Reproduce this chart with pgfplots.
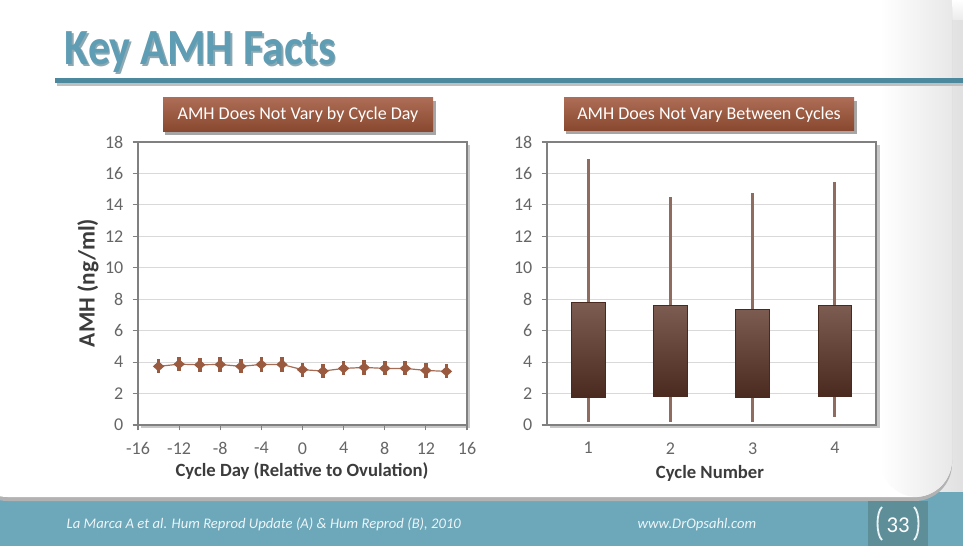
\documentclass[border=0pt]{standalone}
\usepackage{pgfplots}
\pgfplotsset{compat=1.18}
\usepgfplotslibrary{statistics}
\usepackage{pgfplotstable}
\usepackage{fontspec}
\setmainfont{Carlito}
\definecolor{titleblue}{HTML}{5E9DB4}
\definecolor{titleshadow}{HTML}{3E6E80}
\definecolor{rulecol}{HTML}{4C889E}
\definecolor{footer}{HTML}{6DA7BA}
\definecolor{footerbox}{HTML}{5E8F98}
\definecolor{hdrtop}{HTML}{AC6C55}
\definecolor{hdrbot}{HTML}{88482F}
\definecolor{linecol}{HTML}{A66C55}
\definecolor{markcol}{HTML}{9A5A40}
\definecolor{boxtop}{HTML}{7C5C50}
\definecolor{boxbot}{HTML}{4A2A1E}
\definecolor{whisk}{HTML}{8E6C60}
\definecolor{ticktext}{HTML}{666666}
\definecolor{labtext}{HTML}{3C3C3C}
\definecolor{axcol}{HTML}{808080}

\pgfplotstableread{
x y e
-14 3.73 0.45
-12 3.87 0.45
-10 3.83 0.45
-8 3.85 0.45
-6 3.73 0.45
-4 3.85 0.45
-2 3.85 0.45
0 3.52 0.45
2 3.43 0.45
4 3.60 0.45
6 3.66 0.45
8 3.60 0.45
10 3.60 0.45
12 3.47 0.45
14 3.41 0.45
}\daydata

\pgfplotsset{
  slidestyle/.style={
    scale only axis,
    width=246.75pt, height=212.25pt,
    anchor=south west,
    ymin=0, ymax=18, ytick={0,2,...,18},
    ymajorgrids, grid style={draw=black!15, line width=0.6pt},
    axis line style={draw=axcol, line width=0.8pt},
    tick style={draw=axcol, line width=0.8pt},
    tick align=outside, tick pos=left,
    major tick length=4pt,
    tick label style={text=ticktext, font=\fontsize{13.5}{13.5}\selectfont},
    yticklabel style={xshift=-3.5pt},
    xticklabel style={yshift=-5.5pt},
    /pgf/number format/assume math mode=true,
    axis background/.style={fill=white},
  }
}

\begin{document}
\begin{tikzpicture}[x=0.75pt,y=0.75pt]
\path[use as bounding box] (0,0) rectangle (963,546);
\fill[white] (0,0) rectangle (963,546);
\shade[left color=white, right color=black!12] (870,46) rectangle (963,546);
\shade[bottom color=black!8, top color=white] (0,526) rectangle (963,546);
% footer band
\fill[footer] (0,0) rectangle (963,54);
\fill[black!30] (-30,576) [rounded corners=28] -- (-30,45) -- (952,45) -- (952,576) [sharp corners] -- cycle;
\fill[white] (-30,576) [rounded corners=28] -- (-30,49) -- (952,49) -- (952,576) [sharp corners] -- cycle;
\shade[left color=white, right color=black!9] (880,576) [rounded corners=28] -- (880,49) -- (952,49) -- (952,576) [sharp corners] -- cycle;
\fill[footerbox] (868,0) rectangle (928,45);
\node[anchor=base west, text=white!88!footer, font=\fontsize{11}{11}\selectfont\itshape] at (62,18) {La Marca A et al. Hum Reprod Update (A) \& Hum Reprod (B), 2010};
\node[anchor=base, text=white!88!footer, font=\fontsize{11}{11}\selectfont\itshape] at (697,18) {www.DrOpsahl.com};
\node[anchor=base, text=white, font=\fontsize{17}{17}\selectfont] at (898,14) {33};
\draw[white!85!footer, line width=1.4pt] (882,39) .. controls (876,34) and (876,11) .. (882,6);
\draw[white!85!footer, line width=1.4pt] (914,39) .. controls (920,34) and (920,11) .. (914,6);

% title
\node[anchor=base west, text=titleshadow!60, font=\fontsize{38}{38}\selectfont\bfseries] at (61.5,479.5) {\scalebox{0.87}[1]{Key AMH Facts}};
\node[anchor=base west, text=titleblue, font=\fontsize{38}{38}\selectfont\bfseries] at (60,481) {\scalebox{0.87}[1]{Key AMH Facts}};
\fill[black!25] (57,460) rectangle (963,464);
\fill[rulecol] (55,463) rectangle (963,468);

% panel headers
\fill[black!35] (165,411) rectangle (436,445);
\shade[top color=hdrtop, bottom color=hdrbot] (163,414) rectangle (433,448);
\node[text=white, font=\fontsize{13.5}{13.5}\selectfont] at (298,431) {AMH Does Not Vary by Cycle Day};
\fill[black!35] (566,412) rectangle (857,445);
\shade[top color=hdrtop, bottom color=hdrbot] (564,415) rectangle (854,448);
\node[text=white, font=\fontsize{13.5}{13.5}\selectfont] at (709,431) {AMH Does Not Vary Between Cycles};

% axis shadows
\fill[black!22] (141,118) rectangle (470,401);
\fill[black!22] (550,118) rectangle (880,401);

% left axis
\begin{axis}[slidestyle, at={(103.5pt,90.75pt)},
  xmin=-16, xmax=16, xtick={-16,-12,...,16},
  xticklabels={-16,-12,-8,-4,0,4,8,12,16}]
\addplot[color=linecol, line width=0.9pt, mark=diamond*, mark size=4pt,
  mark options={fill=markcol, draw=markcol, xscale=1.2, yscale=0.8},
  error bars/.cd, y dir=both, y explicit,
  error mark=none,
  error bar style={draw=markcol, line width=2.8pt}]
  table[x=x, y=y, y error=e] {\daydata};
\end{axis}

% right axis
\begin{axis}[slidestyle, at={(410.25pt,90.75pt)},
  xmin=0.5, xmax=4.5, xtick={1,2,3,4},
  x tick style={draw=none},
  boxplot/draw direction=y,
  boxplot/every box/.style={draw=boxbot, line width=0.6pt, top color=boxtop, bottom color=boxbot},
  boxplot/every whisker/.style={draw=whisk, line width=2.4pt},
  boxplot/every median/.style={draw=none}]
\addplot[boxplot prepared={lower whisker=0.21, lower quartile=1.73, median=4, upper quartile=7.77, upper whisker=16.92, draw position=1, box extend=0.41, whisker extend=0}] coordinates {};
\addplot[boxplot prepared={lower whisker=0.20, lower quartile=1.83, median=4, upper quartile=7.58, upper whisker=14.50, draw position=2, box extend=0.41, whisker extend=0}] coordinates {};
\addplot[boxplot prepared={lower whisker=0.20, lower quartile=1.73, median=4, upper quartile=7.37, upper whisker=14.73, draw position=3, box extend=0.41, whisker extend=0}] coordinates {};
\addplot[boxplot prepared={lower whisker=0.48, lower quartile=1.83, median=4, upper quartile=7.58, upper whisker=15.46, draw position=4, box extend=0.41, whisker extend=0}] coordinates {};
\end{axis}

% axis labels
\node[rotate=90, text=labtext, font=\fontsize{17.5}{17.5}\selectfont\bfseries] at (88,263) {AMH (ng/ml)};
\node[text=labtext, font=\fontsize{14}{14}\selectfont\bfseries] at (302,75) {Cycle Day (Relative to Ovulation)};
\node[text=labtext, font=\fontsize{14}{14}\selectfont\bfseries] at (710,73) {Cycle Number};
\end{tikzpicture}
\end{document}
